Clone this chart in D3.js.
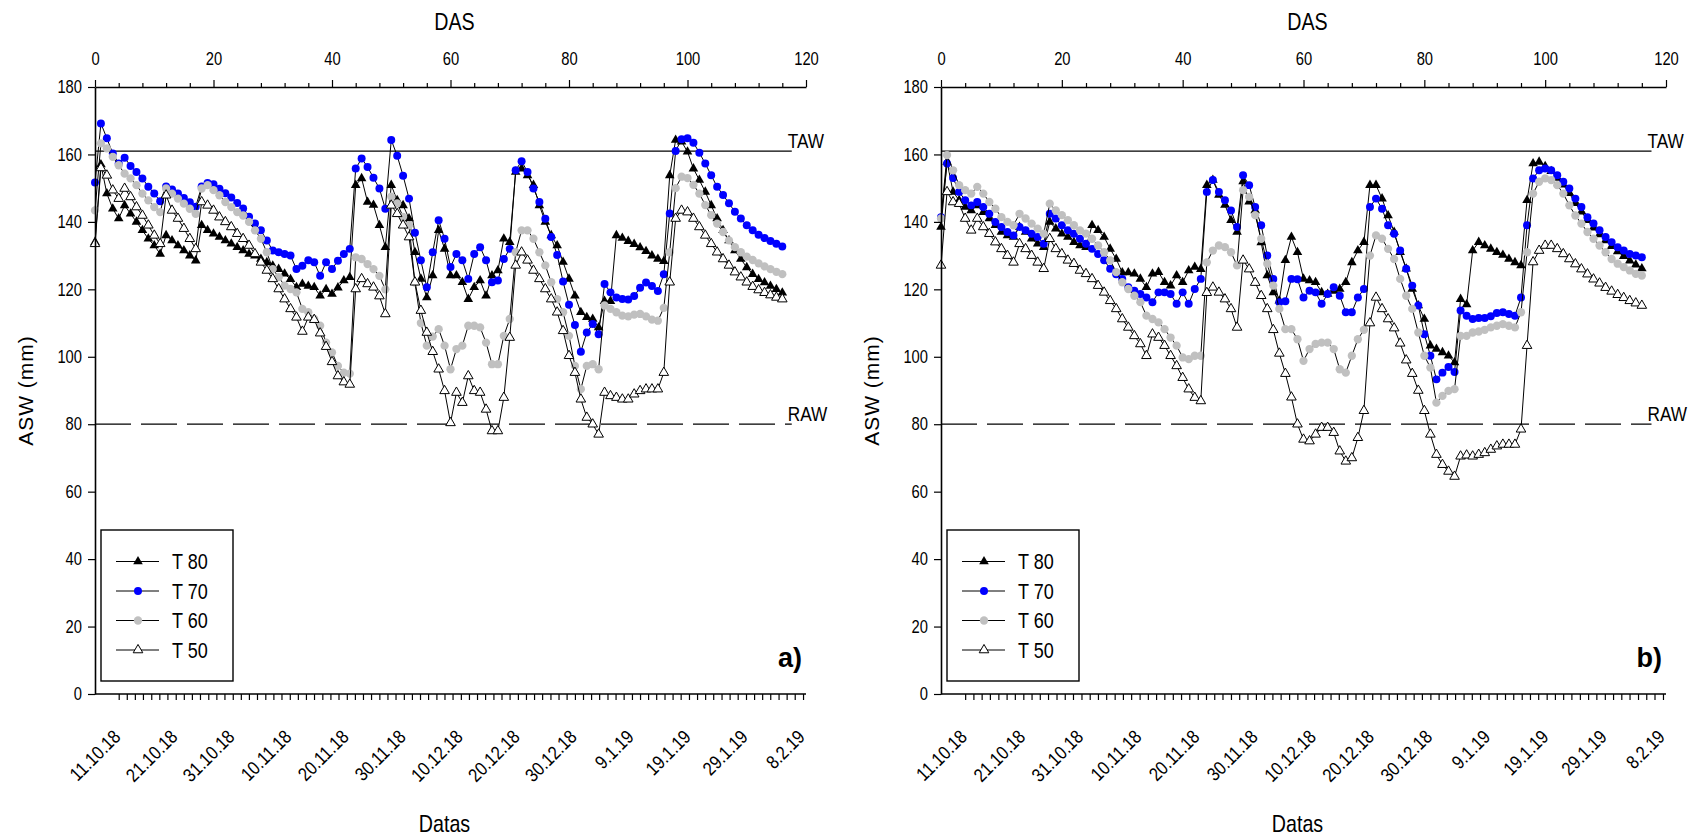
<!DOCTYPE html>
<html>
<head>
<meta charset="utf-8">
<script src="https://cdn.jsdelivr.net/npm/d3@7"></script>
<style>
  body { margin: 0; background: #fff; }
</style>
</head>
<body>
<svg id="chart" width="1701" height="840"></svg>
<script>
// ASW (mm) per day after sowing. Index = DAS (0..116)

// panel a)
const t80a = [134.0, 157.0, 148.4, 143.9, 141.0, 144.9, 142.4, 140.0, 137.5, 135.0,
  133.0, 130.5, 136.0, 134.5, 133.0, 131.5, 130.0, 128.5, 139.0, 137.5,
  136.5, 135.5, 134.5, 133.5, 132.5, 131.5, 130.5, 130.0, 129.0, 128.0,
  127.0, 126.0, 124.6, 123.0, 120.6, 121.6, 121.0, 120.6, 118.1, 120.0,
  118.6, 120.5, 122.6, 123.6, 150.9, 152.9, 145.9, 145.0, 139.0, 132.5,
  150.9, 146.4, 144.9, 141.0, 131.0, 123.1, 117.6, 124.1, 137.5, 132.0,
  124.1, 124.1, 122.1, 117.1, 120.6, 122.6, 118.1, 124.1, 125.6, 135.0,
  134.0, 154.8, 155.8, 153.8, 150.9, 144.9, 140.0, 136.0, 133.0, 128.1,
  123.1, 118.1, 113.2, 111.7, 111.2, 108.7, 116.5, 116.5, 136.0, 135.2,
  134.3, 133.4, 132.4, 131.3, 130.0, 129.0, 128.3, 153.8, 164.3, 163.8,
  160.8, 155.8, 152.4, 148.9, 144.9, 141.0, 137.5, 134.5, 131.5, 129.0,
  126.5, 124.5, 123.0, 122.0, 121.0, 120.0, 119.0];

const t70a = [151.7, 169.2, 164.8, 160.3, 157.3, 159.0, 156.6, 154.8, 152.9, 150.4,
  148.4, 146.1, 150.5, 149.6, 148.4, 147.1, 145.8, 144.5, 150.5, 151.5,
  151.2, 149.8, 148.5, 147.2, 145.6, 144.0, 141.5, 139.5, 137.5, 134.5,
  131.5, 131.0, 130.5, 130.0, 126.0, 127.0, 128.6, 128.0, 124.0, 128.0,
  126.0, 128.5, 130.5, 132.0, 155.8, 158.8, 156.3, 153.1, 149.9, 143.9,
  164.3, 159.6, 153.7, 146.9, 136.8, 128.6, 120.6, 131.0, 140.5, 135.0,
  126.6, 130.5, 128.6, 123.1, 130.5, 132.5, 128.6, 122.1, 122.6, 129.0,
  132.0, 155.3, 158.0, 154.8, 149.9, 145.9, 140.9, 135.5, 130.2, 122.3,
  115.4, 109.4, 101.5, 107.2, 109.7, 106.7, 121.6, 119.1, 117.6, 117.1,
  117.0, 118.0, 120.5, 122.0, 121.0, 119.5, 124.5, 142.5, 161.0, 164.5,
  164.8, 163.5, 160.5, 157.3, 153.8, 150.4, 148.0, 145.5, 143.0, 141.0,
  139.0, 137.5, 136.2, 135.2, 134.3, 133.5, 132.7];

const t60a = [143.4, 163.3, 161.8, 159.3, 156.8, 154.3, 152.9, 150.9, 148.4, 146.4,
  144.4, 142.9, 149.9, 148.4, 146.9, 145.4, 143.9, 142.4, 149.9, 150.9,
  149.4, 147.9, 145.9, 144.4, 142.9, 141.9, 140.0, 137.5, 135.0, 131.0,
  126.0, 123.6, 121.1, 120.1, 119.1, 114.2, 113.2, 111.2, 109.2, 104.2,
  101.3, 97.3, 95.3, 95.0, 129.5, 129.0, 127.5, 126.0, 124.0, 120.0,
  147.5, 145.5, 141.5, 139.0, 122.0, 110.0, 103.3, 106.0, 108.2, 103.3,
  96.3, 102.3, 103.3, 109.2, 109.2, 108.7, 104.2, 97.8, 97.8, 106.2,
  111.2, 131.0, 137.5, 137.5, 135.0, 131.0, 127.1, 122.1, 117.1, 113.2,
  106.2, 97.3, 90.4, 97.3, 97.8, 96.3, 115.2, 114.2, 113.2, 112.2,
  112.0, 112.5, 112.7, 112.0, 111.0, 110.7, 114.5, 131.0, 150.0, 153.4,
  153.0, 151.0, 148.4, 145.0, 142.0, 139.5, 137.0, 134.5, 132.5, 131.0,
  129.7, 128.7, 127.7, 126.8, 126.0, 125.2, 124.5];

const t50a = [133.5, 156.0, 153.8, 149.4, 146.9, 149.9, 147.4, 144.4, 141.9, 139.0,
  136.0, 133.5, 147.9, 143.4, 141.0, 138.0, 135.0, 132.0, 145.9, 144.9,
  143.4, 141.4, 140.0, 138.5, 136.5, 135.0, 133.0, 130.5, 128.0, 125.6,
  123.1, 120.1, 117.1, 114.2, 111.7, 107.5, 111.7, 111.0, 107.0, 103.0,
  98.5, 94.3, 92.5, 91.8, 120.1, 123.1, 121.6, 120.6, 118.0, 112.7,
  144.9, 142.4, 139.0, 135.5, 122.1, 113.7, 107.2, 101.5, 96.3, 89.9,
  80.4, 89.4, 86.4, 94.3, 89.9, 89.4, 84.4, 78.0, 78.0, 87.9,
  105.7, 127.1, 131.0, 128.6, 125.6, 123.1, 120.1, 117.1, 113.2, 107.7,
  100.3, 95.3, 87.4, 82.0, 80.0, 77.0, 89.4, 88.4, 87.9, 87.4,
  87.4, 88.9, 89.9, 90.4, 90.4, 90.4, 95.3, 122.1, 141.0, 143.4,
  142.9, 141.0, 138.5, 136.0, 133.5, 131.0, 129.0, 127.1, 125.1, 123.6,
  122.1, 120.8, 119.8, 119.0, 118.3, 117.6, 117.1];

// panel b)
const t80b = [138.5, 157.8, 148.9, 146.4, 144.4, 143.4, 144.9, 142.9, 141.0, 139.0,
  137.0, 136.0, 135.5, 138.5, 137.0, 135.0, 133.5, 132.5, 140.0, 138.0,
  136.5, 135.5, 134.0, 133.0, 132.5, 139.0, 137.5, 135.5, 132.0, 129.0,
  125.0, 125.0, 124.6, 123.1, 120.6, 124.6, 125.1, 122.1, 121.1, 124.1,
  122.1, 125.6, 126.6, 126.0, 150.9, 152.4, 148.0, 145.0, 140.5, 137.0,
  152.0, 146.0, 143.4, 133.9, 124.1, 119.1, 116.6, 128.6, 135.5, 131.0,
  123.1, 122.6, 122.1, 119.1, 118.6, 119.5, 120.1, 122.1, 128.0, 131.5,
  134.0, 150.9, 150.9, 146.9, 141.9, 137.0, 131.0, 126.1, 120.1, 115.2,
  111.2, 103.3, 102.3, 101.3, 100.3, 98.3, 117.1, 115.5, 131.5, 134.0,
  133.0, 132.0, 131.0, 130.2, 129.0, 128.0, 127.1, 146.4, 157.3, 157.8,
  156.5, 155.0, 153.0, 151.0, 148.5, 145.5, 143.0, 140.5, 138.3, 136.3,
  134.5, 132.8, 131.2, 129.8, 128.5, 127.3, 126.2];

const t70b = [141.4, 157.3, 153.0, 148.9, 146.4, 144.9, 145.9, 144.4, 142.4, 140.0,
  138.5, 137.0, 136.0, 138.5, 137.5, 136.5, 135.5, 133.5, 142.4, 141.0,
  139.0, 137.5, 136.5, 135.0, 133.5, 132.0, 130.5, 128.6, 126.1, 124.5,
  123.1, 120.6, 119.6, 118.6, 117.6, 116.2, 119.1, 119.1, 118.6, 115.7,
  119.1, 115.7, 120.1, 123.1, 148.9, 152.4, 148.9, 146.4, 143.4, 138.5,
  153.8, 150.9, 144.4, 139.0, 130.0, 123.1, 116.2, 116.5, 123.1, 123.0,
  117.6, 119.6, 119.1, 115.7, 118.6, 120.6, 118.1, 113.2, 113.2, 117.6,
  120.1, 144.4, 146.9, 143.9, 139.0, 136.5, 131.5, 126.1, 121.1, 115.2,
  106.7, 100.3, 93.3, 95.3, 97.0, 95.5, 113.7, 112.2, 111.2, 111.5,
  111.5, 112.0, 113.0, 113.2, 112.7, 112.2, 117.6, 139.0, 152.9, 155.3,
  155.8, 155.3, 153.8, 151.9, 149.9, 146.9, 144.4, 141.4, 139.5, 137.5,
  135.5, 134.0, 132.5, 131.5, 130.5, 130.0, 129.5];

const t60b = [141.0, 159.8, 155.3, 150.9, 149.4, 148.4, 150.4, 148.4, 145.9, 143.9,
  141.4, 140.0, 139.0, 142.4, 141.0, 139.5, 138.0, 136.5, 145.4, 143.4,
  142.0, 140.5, 139.0, 137.5, 136.5, 135.0, 133.0, 131.0, 128.6, 125.1,
  122.1, 120.1, 118.1, 116.2, 112.2, 111.2, 110.2, 108.2, 105.7, 103.3,
  99.8, 99.3, 100.3, 100.3, 128.0, 131.5, 133.0, 132.5, 131.0, 127.1,
  149.4, 147.4, 142.0, 135.0, 127.6, 121.1, 114.2, 108.2, 108.2, 105.2,
  98.8, 102.3, 103.8, 104.2, 104.2, 102.3, 96.3, 95.3, 100.3, 105.2,
  108.0, 130.0, 136.0, 135.0, 132.0, 129.0, 123.1, 118.1, 114.2, 107.2,
  100.3, 96.8, 86.4, 88.4, 89.9, 90.4, 106.2, 106.2, 107.2, 107.5,
  108.0, 108.7, 109.2, 109.7, 109.2, 108.7, 113.2, 131.0, 148.4, 151.9,
  152.9, 152.4, 150.9, 148.4, 144.9, 141.9, 139.5, 137.0, 135.0, 133.0,
  131.0, 129.0, 127.6, 126.6, 125.6, 124.6, 124.1];

const t50b = [127.1, 148.9, 145.9, 145.4, 141.0, 137.5, 141.0, 138.5, 136.5, 134.0,
  132.0, 130.0, 128.0, 133.5, 132.0, 130.0, 128.0, 126.1, 135.0, 132.0,
  130.5, 128.6, 127.6, 125.6, 124.6, 123.1, 121.1, 119.1, 116.6, 114.2,
  111.2, 108.7, 106.2, 103.8, 100.3, 106.7, 105.7, 103.3, 100.3, 97.3,
  93.8, 90.4, 87.9, 86.9, 119.0, 120.6, 119.1, 117.1, 114.2, 108.7,
  128.6, 126.0, 122.0, 118.1, 114.2, 108.0, 101.0, 95.0, 88.0, 80.0,
  75.5, 75.0, 77.0, 79.0, 79.0, 77.5, 72.0, 69.0, 70.0, 76.0,
  84.0, 110.0, 117.6, 114.2, 111.2, 108.5, 104.0, 99.0, 95.0, 90.0,
  84.0, 77.0, 71.0, 68.0, 66.0, 64.5, 70.5, 70.8, 70.5, 71.0,
  71.5, 72.5, 73.5, 74.0, 74.0, 74.0, 78.5, 103.3, 128.1, 131.5,
  133.0, 133.0, 132.0, 130.5, 129.0, 127.5, 126.0, 124.5, 123.0, 121.8,
  120.5, 119.4, 118.4, 117.5, 116.6, 115.9, 115.2];

// reference levels and axis ticks
const taw = 161;
const raw = 80;
const refLineEnd = 117.6;   // DAS where the TAW/RAW lines stop
const dasTicks = [0, 20, 40, 60, 80, 100, 120];
const aswTicks = [0, 20, 40, 60, 80, 100, 120, 140, 160, 180];
const dateLabels = ["11.10.18", "21.10.18", "31.10.18", "10.11.18", "20.11.18", "30.11.18",
  "10.12.18", "20.12.18", "30.12.18", "9.1.19", "19.1.19", "29.1.19", "8.2.19"];
const seriesNames = ["T 80", "T 70", "T 60", "T 50"];

// Layout
const plotTop = 87, plotBottom = 694;
const font = '"Liberation Sans", Arial, sans-serif';
const squeeze = 0.82;   // horizontal scale to imitate Arial Narrow

const panels = [
  {tag: "a)", left: 95, width: 711, data: [t80a, t70a, t60a, t50a]},
  {tag: "b)", left: 941, width: 725, data: [t80b, t70b, t60b, t50b]}
];

const seriesStyle = [
  {shape: d3.symbolTriangle, size: 40, fill: "#000000", stroke: "none"},
  {shape: d3.symbolCircle, size: 50, fill: "#0000ff", stroke: "none"},
  {shape: d3.symbolCircle, size: 54, fill: "#c0c0c0", stroke: "none"},
  {shape: d3.symbolTriangle, size: 40, fill: "#ffffff", stroke: "#000000"}
];

const parseDate = d3.timeParse("%d.%m.%y");
const labelDates = dateLabels.map(parseDate);

const svg = d3.select("#chart");
panels.forEach(p => drawPanel(svg, p));

// narrow look: squeeze text horizontally, keep its anchor point
function narrowText(sel) {
  sel.each(function() {
    const t = d3.select(this);
    const x0 = +t.attr("x") || 0;
    t.attr("x", x0 / squeeze).attr("transform", `scale(${squeeze},1)`);
  });
}

function styleAxis(sel, size) {
  sel.selectAll("text").attr("font-family", font).attr("font-size", size).attr("fill", "#000");
  narrowText(sel.selectAll("text"));
  sel.selectAll("line").attr("stroke", "#000").attr("stroke-width", 1.2);
  sel.select(".domain").attr("stroke", "#000").attr("stroke-width", 1.6);
}

function drawPanel(svg, p) {
  const g = svg.append("g");
  const x = d3.scaleLinear().domain([0, 120]).range([p.left, p.left + p.width]);
  const y = d3.scaleLinear().domain([0, 180]).range([plotBottom, plotTop]);
  // the date axis is offset from the DAS axis in the original figure
  const xDate = d3.scaleTime()
    .domain([labelDates[0], labelDates[labelDates.length - 1]])
    .range([x(4), x(119.5)]);

  // TAW and RAW lines
  g.append("line")
    .attr("x1", x(0)).attr("x2", x(refLineEnd))
    .attr("y1", y(taw)).attr("y2", y(taw))
    .attr("stroke", "#000").attr("stroke-width", 1.3);
  g.append("line")
    .attr("x1", x(0)).attr("x2", x(refLineEnd))
    .attr("y1", y(raw)).attr("y2", y(raw))
    .attr("stroke", "#000").attr("stroke-width", 1.3)
    .attr("stroke-dasharray", "36,10");
  [["TAW", taw], ["RAW", raw]].forEach(([label, v]) => {
    g.append("text")
      .attr("transform", `translate(${x(refLineEnd) - 4},${y(v) - 3}) scale(${squeeze},1)`)
      .attr("font-family", font).attr("font-size", 21)
      .text(label);
  });

  // series: black connecting line + markers
  p.data.forEach((vals, s) => {
    const st = seriesStyle[s];
    const pts = vals.map((v, i) => ({das: i, v: v}));
    g.append("path")
      .datum(pts)
      .attr("fill", "none")
      .attr("stroke", "#000")
      .attr("stroke-width", 1)
      .attr("d", d3.line().x(d => x(d.das)).y(d => y(d.v)));
    g.append("g").selectAll("path")
      .data(pts)
      .enter()
      .append("path")
      .attr("transform", d => `translate(${x(d.das)},${y(d.v)})`)
      .attr("d", d3.symbol().type(st.shape).size(st.size))
      .attr("fill", st.fill)
      .attr("stroke", st.stroke)
      .attr("stroke-width", 1);
  });

  // left axis
  const yAxis = g.append("g")
    .attr("transform", `translate(${x(0)},0)`)
    .call(d3.axisLeft(y).tickValues(aswTicks).tickSize(7).tickSizeOuter(0).tickPadding(6));
  styleAxis(yAxis, 18);

  // top axis (DAS)
  const topAxis = g.append("g")
    .attr("transform", `translate(0,${y(180)})`)
    .call(d3.axisTop(x).tickValues(dasTicks).tickSize(7).tickSizeOuter(0).tickPadding(15));
  styleAxis(topAxis, 18);
  const dasMinor = d3.range(4, 120, 4).filter(d => d % 20 !== 0);
  const topMinor = g.append("g")
    .attr("transform", `translate(0,${y(180)})`)
    .call(d3.axisTop(x).tickValues(dasMinor).tickSize(4).tickFormat(""));
  topMinor.select(".domain").remove();
  styleAxis(topMinor, 18);

  // bottom axis (dates)
  g.append("line")
    .attr("x1", x(0)).attr("x2", x(120))
    .attr("y1", y(0)).attr("y2", y(0))
    .attr("stroke", "#000").attr("stroke-width", 1.6);
  const start = labelDates[0];
  const minorDates = d3.range(0, 120.01, 10 / 7).map(d => d3.timeHour.offset(start, d * 24));
  const bottomMinor = g.append("g")
    .attr("transform", `translate(0,${y(0)})`)
    .call(d3.axisBottom(xDate).tickValues(minorDates).tickSize(6).tickFormat(""));
  bottomMinor.select(".domain").remove();
  styleAxis(bottomMinor, 18);

  g.append("g").selectAll("text")
    .data(dateLabels)
    .enter()
    .append("text")
    .attr("transform", (d, i) =>
      `translate(${xDate(labelDates[i]) + 3},${y(0) + 44}) rotate(-45) scale(0.86,1)`)
    .attr("text-anchor", "end")
    .attr("font-family", font)
    .attr("font-size", 19)
    .text(d => d);

  // axis titles
  g.append("text")
    .attr("transform", `translate(${x(60) + 4},30) scale(${squeeze},1)`)
    .attr("text-anchor", "middle")
    .attr("font-family", font).attr("font-size", 24)
    .text("DAS");
  g.append("text")
    .attr("transform", `translate(${x(60) - 6},832) scale(${squeeze},1)`)
    .attr("text-anchor", "middle")
    .attr("font-family", font).attr("font-size", 24)
    .text("Datas");
  g.append("text")
    .attr("transform", `translate(${p.left - 70},${y(90)}) rotate(-90)`)
    .attr("text-anchor", "middle")
    .attr("dominant-baseline", "central")
    .attr("font-family", font).attr("font-size", 21)
    .attr("letter-spacing", 1)
    .text("ASW (mm)");

  // panel tag
  g.append("text")
    .attr("x", x(120) - 4).attr("y", 667)
    .attr("text-anchor", "end")
    .attr("font-family", font).attr("font-size", 27).attr("font-weight", "bold")
    .text(p.tag);

  // legend
  const lg = g.append("g").attr("transform", `translate(${p.left + 6},530)`);
  lg.append("rect")
    .attr("width", 132).attr("height", 151)
    .attr("fill", "#fff").attr("stroke", "#000").attr("stroke-width", 1.4);
  seriesNames.forEach((name, k) => {
    const st = seriesStyle[k];
    const cy = 31.5 + k * 29.5;
    lg.append("line")
      .attr("x1", 15).attr("x2", 58).attr("y1", cy).attr("y2", cy)
      .attr("stroke", "#000").attr("stroke-width", 1);
    lg.append("path")
      .attr("transform", `translate(37,${cy})`)
      .attr("d", d3.symbol().type(st.shape).size(st.size))
      .attr("fill", st.fill).attr("stroke", st.stroke).attr("stroke-width", 1);
    lg.append("text")
      .attr("transform", `translate(71,${cy}) scale(${squeeze},1)`)
      .attr("dy", "0.36em")
      .attr("font-family", font).attr("font-size", 22)
      .text(name);
  });
}
</script>
</body>
</html>
